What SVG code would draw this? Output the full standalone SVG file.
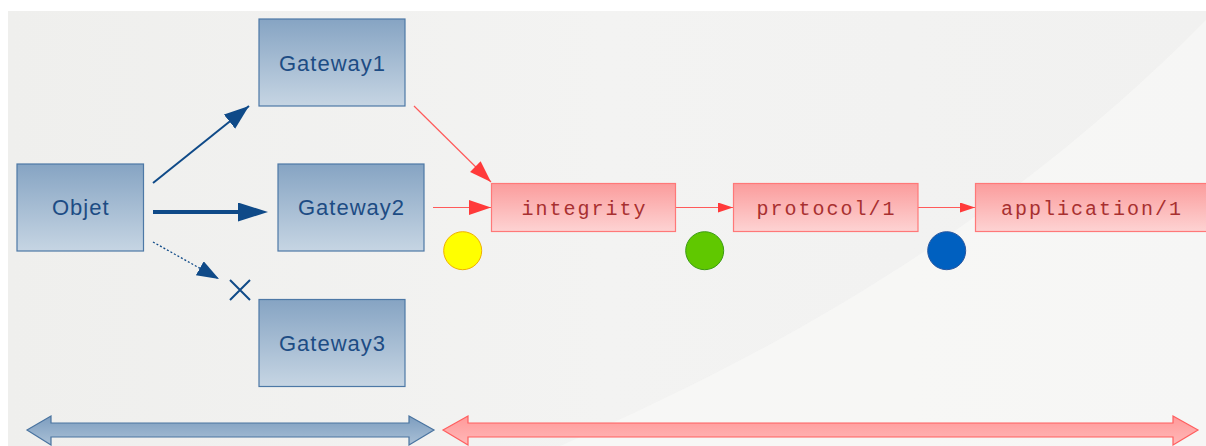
<svg xmlns="http://www.w3.org/2000/svg" width="1206" height="446" viewBox="0 0 1206 446">
<style>
.bbox{fill:url(#gBlue);stroke:#4d78a6;stroke-width:1.2}
.rbox{fill:url(#gRed);stroke:#ff7878;stroke-width:1.2}
.btxt{font-family:"Liberation Sans",Arial,sans-serif;font-size:22px;letter-spacing:1px;fill:#1d4c84;text-anchor:middle}
.rtxt{font-family:"Liberation Mono","Courier New",monospace;font-size:20px;letter-spacing:2px;fill:#a83030;text-anchor:middle}
.bl{stroke:#0f4a88;fill:none}
.rl{stroke:#ff5a5a;stroke-width:1.2;fill:none}
</style>
<defs>
<linearGradient id="gBlue" x1="0" y1="0" x2="0" y2="1">
<stop offset="0" stop-color="#86a4c3"/><stop offset="1" stop-color="#c6d5e3"/>
</linearGradient>
<linearGradient id="gRed" x1="0" y1="0" x2="0" y2="1">
<stop offset="0" stop-color="#fb9c9c"/><stop offset="1" stop-color="#fdd3d3"/>
</linearGradient>
<linearGradient id="gBlueArrow" x1="0" y1="0" x2="0" y2="1">
<stop offset="0" stop-color="#7d9dbf"/><stop offset="1" stop-color="#a9c0d6"/>
</linearGradient>
<linearGradient id="gRedArrow" x1="0" y1="0" x2="0" y2="1">
<stop offset="0" stop-color="#ff9999"/><stop offset="1" stop-color="#ffb8b8"/>
</linearGradient>
<linearGradient id="gBg" x1="0" y1="0" x2="1" y2="0">
<stop offset="0" stop-color="#efefed"/><stop offset="0.5" stop-color="#f3f3f2"/><stop offset="1" stop-color="#f1f1f0"/>
</linearGradient>
<marker id="mB1" markerUnits="userSpaceOnUse" markerWidth="26" markerHeight="20" refX="25" refY="9" orient="auto">
<path d="M0,0 L25,9 L0,18 z" fill="#0f4a88"/>
</marker>
<marker id="mB2" markerUnits="userSpaceOnUse" markerWidth="32" markerHeight="22" refX="20" refY="9.5" orient="auto">
<path d="M0,0 L30,9.5 L0,19 z" fill="#0f4a88"/>
</marker>
<marker id="mB3" markerUnits="userSpaceOnUse" markerWidth="24" markerHeight="18" refX="22" refY="8" orient="auto">
<path d="M0,0 L22,8 L0,16 z" fill="#0f4a88"/>
</marker>
<marker id="mR1" markerUnits="userSpaceOnUse" markerWidth="24" markerHeight="18" refX="22" refY="7.5" orient="auto">
<path d="M0,0 L22,7.5 L0,15 z" fill="#ff3a3a"/>
</marker>
<marker id="mR2" markerUnits="userSpaceOnUse" markerWidth="16" markerHeight="12" refX="15" refY="5" orient="auto">
<path d="M0,0 L15,5 L0,10 z" fill="#ff3a3a"/>
</marker>
</defs>
<rect x="0" y="0" width="1206" height="446" fill="#ffffff"/>
<rect x="8" y="11" width="1198" height="435" fill="url(#gBg)"/>
<path d="M560,446 C760,360 1000,230 1206,20 L1206,446 z" fill="#f7f7f6" opacity="0.8"/>
<g id="connectors">
<line class="bl" x1="153" y1="183" x2="249" y2="106" stroke-width="2" marker-end="url(#mB1)"/>
<line class="bl" x1="153" y1="212" x2="258" y2="212" stroke-width="4" marker-end="url(#mB2)"/>
<line class="bl" x1="153" y1="242" x2="219" y2="279" stroke-width="1.3" stroke-dasharray="2,2" marker-end="url(#mB3)"/>
<path class="bl" d="M230,280 L250,300 M250,280 L230,300" stroke="#1f5592" stroke-width="2"/>
<line class="rl" x1="414" y1="106" x2="491" y2="182" marker-end="url(#mR1)"/>
<line class="rl" x1="433" y1="207.5" x2="491" y2="207.5" marker-end="url(#mR1)"/>
<line class="rl" x1="676" y1="207.5" x2="733" y2="207.5" marker-end="url(#mR2)"/>
<line class="rl" x1="918" y1="207.5" x2="975" y2="207.5" marker-end="url(#mR2)"/>
</g>
<g id="objet"><rect class="bbox" x="17" y="164" width="126.5" height="87"/><text class="btxt" x="80.8" y="215">Objet</text></g>
<g id="gateway1"><rect class="bbox" x="259" y="19" width="146" height="87"/><text class="btxt" x="332.5" y="71">Gateway1</text></g>
<g id="gateway2"><rect class="bbox" x="278" y="164" width="146" height="87"/><text class="btxt" x="351.5" y="215">Gateway2</text></g>
<g id="gateway3"><rect class="bbox" x="259" y="299.5" width="146" height="87"/><text class="btxt" x="332.5" y="351">Gateway3</text></g>
<g id="integrity"><rect class="rbox" x="491.5" y="183.5" width="184" height="48"/><text class="rtxt" x="584.5" y="214.5">integrity</text></g>
<g id="protocol1"><rect class="rbox" x="733.5" y="183.5" width="184.5" height="48"/><text class="rtxt" x="826.5" y="214.5">protocol/1</text></g>
<g id="application1"><rect class="rbox" x="975.5" y="183.5" width="240" height="48"/><text class="rtxt" x="1092" y="214.5">application/1</text></g>
<g id="dot-yellow"><circle cx="462.7" cy="250.7" r="19" fill="#ffff00" stroke="#f0b000" stroke-width="1"/></g>
<g id="dot-green"><circle cx="704.7" cy="250.7" r="19" fill="#60c800" stroke="#3c9c14" stroke-width="1"/></g>
<g id="dot-blue"><circle cx="946.7" cy="250.7" r="19" fill="#0060c0" stroke="#2a58a0" stroke-width="1"/></g>
<g id="span-blue"><polygon points="27,430 51,416 51,423 409,423 409,416 434,430 409,445 409,437 51,437 51,445" fill="url(#gBlueArrow)" stroke="#4a74a0" stroke-width="1.2"/></g>
<g id="span-red"><polygon points="443,430 468,416 468,423 1173,423 1173,416 1198,430 1173,445 1173,437 468,437 468,445" fill="url(#gRedArrow)" stroke="#ff5f5f" stroke-width="1.2"/></g>
</svg>
